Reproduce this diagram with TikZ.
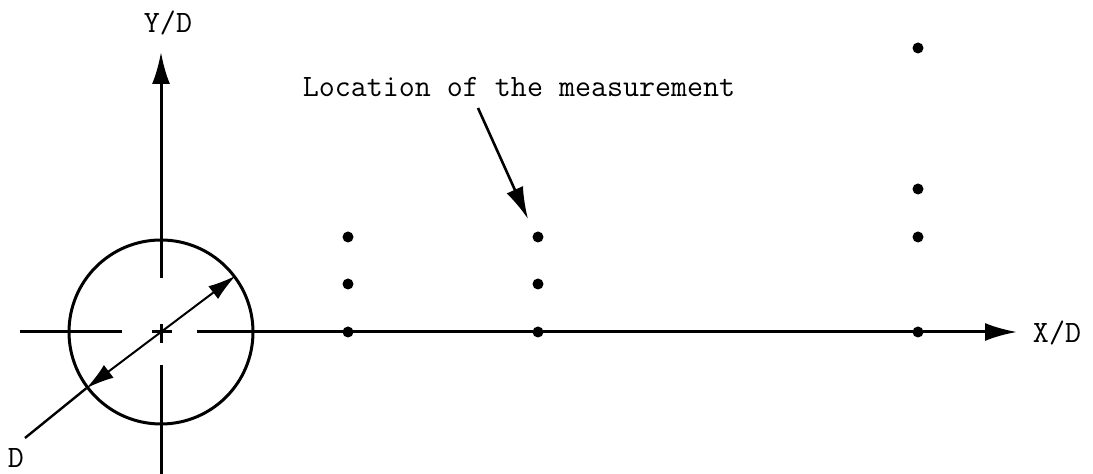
\documentclass[tikz,border=0pt]{standalone}
\usetikzlibrary{arrows.meta}
\tikzset{
  axisline/.style={line width=1.5bp},
  bigtip/.style={-{Latex[length=16bp,width=9bp]}},
  dot/.style={circle,fill=black,inner sep=0pt,minimum size=5.5bp},
  lbl/.style={font=\ttfamily\fontsize{15.6}{18}\selectfont,inner sep=0pt},
}

\begin{document}
\begin{tikzpicture}[x=0.5bp,y=-0.5bp]
  \useasboundingbox (0,0) rectangle (1093,474);
  % cylinder
  \node[draw,circle,line width=1.5bp,minimum size=92bp,inner sep=0pt] (cyl) at (161,332) {};
  % axes
  \coordinate (xa) at (20,332);   \coordinate (xb) at (122,332);
  \coordinate (xc) at (152,332);  \coordinate (xd) at (172,332);
  \coordinate (xe) at (197,332);  \coordinate (xf) at (1017,332);
  \coordinate (ya) at (161,474);  \coordinate (yb) at (161,365);
  \coordinate (yc) at (161,343);  \coordinate (yd) at (161,324);
  \coordinate (ye) at (161,278);  \coordinate (yf) at (161,52);
  \draw[axisline] (xa) -- (xb) (xc) -- (xd) (ya) -- (yb) (yc) -- (yd);
  \draw[axisline,bigtip] (xe) -- (xf);
  \draw[axisline,bigtip] (ye) -- (yf);
  \node[lbl] (xlab) at (1057,333) {X/D};
  \node[lbl] (ylab) at (168,23) {Y/D};
  % diameter
  \coordinate (dend) at (25,438);
  \draw[line width=1.2bp] (dend) -- (cyl.217.4);
  \draw[line width=1bp,{Latex[length=14bp,width=8bp]}-{Latex[length=14bp,width=8bp]}] (cyl.217.4) -- (cyl.37.4);
  \node[lbl] (dlab) at (16,458) {D};
  % measurement points
  \foreach \px/\py/\nm in {348/332/a1,348/284/a2,348/237/a3,
                            538/332/b1,538/284/b2,538/237/b3,
                            918/332/c1,918/237/c2,918/189/c3,918/48/c4}
    \node[dot] (\nm) at (\px,\py) {};
  % label
  \node[lbl] (loc) at (519,87) {Location of the measurement};
  \coordinate (ltail) at (478,108);
  \coordinate (ltip) at (528,219);
  \draw[line width=1.3bp,bigtip] (ltail) -- (ltip);
\end{tikzpicture}
\end{document}
